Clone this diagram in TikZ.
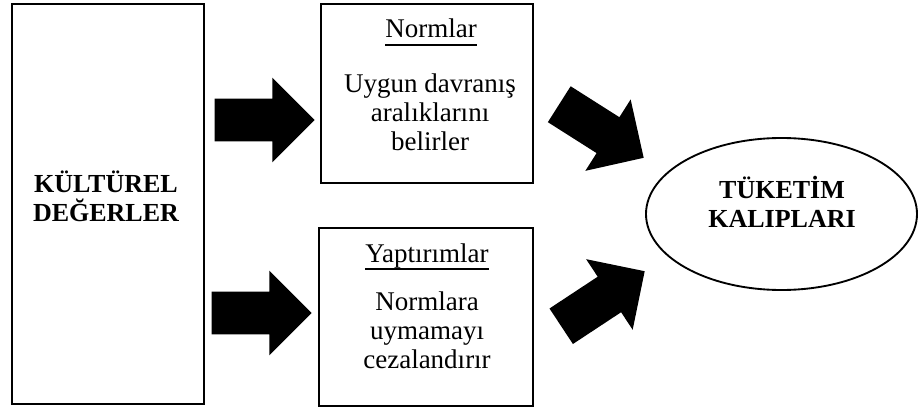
\documentclass[tikz,border=0pt]{standalone}
\usepackage{fontspec}
\setmainfont{Liberation Serif}
\usetikzlibrary{shapes.geometric, shapes.arrows}

\begin{document}
\begin{tikzpicture}[
    x=0.75pt, y=-0.75pt,
    box/.style={draw, line width=1.4pt, inner sep=0pt},
    txt/.style={align=center, inner sep=0pt, font=\fontsize{20.25}{21.75}\selectfont},
    bold/.style={align=center, inner sep=0pt, font=\fontsize{19.5}{21.75}\selectfont\bfseries},
    ttl/.style={anchor=base, inner sep=0pt, font=\fontsize{20.25}{21.75}\selectfont},
    uline/.style={line width=1pt},
    blk/.style={single arrow, fill=black, inner xsep=0pt, inner ysep=15.75pt, minimum height=75pt, single arrow head extend=15.75pt, anchor=tip},
]
\useasboundingbox (0,0) rectangle (918,410);
\node[box, minimum width=144pt, minimum height=300pt] (kd) at (108,204) {};
\node[box, minimum width=159pt, minimum height=134.25pt] (nrm) at (427,93.5) {};
\node[box, minimum width=160.5pt, minimum height=133.5pt] (ypt) at (426,317) {};
\node[box, ellipse, minimum width=203.25pt, minimum height=114pt] (tk) at (781.5,214) {};
\node[bold] (kdt) at (106,196.5) {KÜLTÜREL\\DEĞERLER};
\node[ttl] (nt) at (431,38) {Normlar};
\draw[uline] ([yshift=-5.3pt]nt.base west) -- ([yshift=-5.3pt]nt.base east);
\node[txt] (nb) at (430,112) {Uygun davranış\\aralıklarını\\belirler};
\node[ttl] (yt) at (427,262) {Yaptırımlar};
\draw[uline] ([yshift=-5.3pt]yt.base west) -- ([yshift=-5.3pt]yt.base east);
\node[txt] (yb) at (427,330) {Normlara\\uymamayı\\cezalandırır};
\node[bold] (tkt) at (782,202) {TÜKETİM\\KALIPLARI};
\node[blk] (a1) at (315,120) {};
\node[blk] (a2) at (312,313) {};
\node[blk, rotate=-32.4] (a3) at (644,158) {};
\node[blk, rotate=33.4] (a4) at (645,271) {};
\end{tikzpicture}
\end{document}
